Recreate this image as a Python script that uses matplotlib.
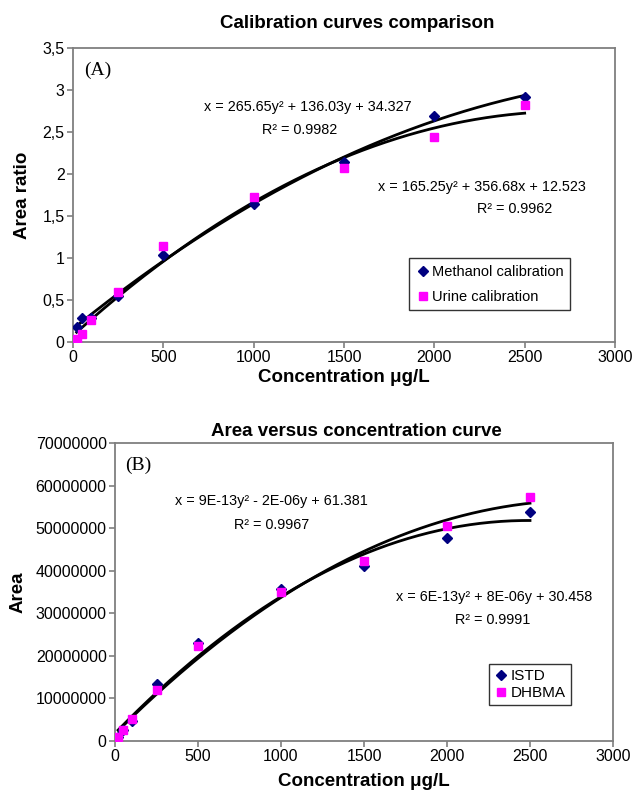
import numpy as np
import matplotlib
matplotlib.use("Agg")
import matplotlib.pyplot as plt
from matplotlib.ticker import FuncFormatter

plt.rcParams['font.family'] = ['Liberation Sans', 'DejaVu Sans']

# concentrations (ug/L)
conc = [20, 50, 100, 250, 500, 1000, 1500, 2000, 2500]

# panel A: area ratio
methanol = [0.18, 0.28, 0.29, 0.55, 1.03, 1.64, 2.14, 2.69, 2.92]
urine = [0.03, 0.10, 0.26, 0.60, 1.14, 1.73, 2.07, 2.44, 2.82]

# panel B: area
istd = [0.9e6, 2.6e6, 4.8e6, 13.3e6, 23.1e6, 35.7e6, 41.0e6, 47.7e6, 53.8e6]
dhbma = [1.0e6, 2.7e6, 5.2e6, 12.0e6, 22.2e6, 34.9e6, 42.3e6, 50.5e6, 57.3e6]

eqA1 = ("x = 265.65y\u00b2 + 136.03y + 34.327", "R\u00b2 = 0.9982")
eqA2 = ("x = 165.25y\u00b2 + 356.68x + 12.523", "R\u00b2 = 0.9962")
eqB1 = ("x = 9E-13y\u00b2 - 2E-06y + 61.381", "R\u00b2 = 0.9967")
eqB2 = ("x = 6E-13y\u00b2 + 8E-06y + 30.458", "R\u00b2 = 0.9991")

NAVY = '#000080'
MAG = '#ff00ff'
GRAY = '#7f7f7f'

W, H = 632, 793
fig = plt.figure(figsize=(W / 100, H / 100), dpi=100)


def box(l, t, r, b):
    return [l / W, 1 - b / H, (r - l) / W, (b - t) / H]


def style(ax):
    for s in ax.spines.values():
        s.set_color(GRAY)
        s.set_linewidth(1.3)
    ax.tick_params(direction='out', length=4, width=1.2, color=GRAY,
                   labelsize=11.5, pad=2, top=False, right=False)


def trend(ax, x, y):
    c = np.polyfit(x, y, 2)
    xs = np.linspace(min(x), max(x), 200)
    ax.plot(xs, np.polyval(c, xs), color='black', lw=2, zorder=2)


# ---------- panel A ----------
axA = fig.add_axes(box(73, 48, 615, 342))
style(axA)
trend(axA, conc, methanol)
trend(axA, conc, urine)
axA.plot(conc, methanol, 'D', color=NAVY, ms=5, ls='none',
         label='Methanol calibration', zorder=3)
axA.plot(conc, urine, 's', color=MAG, ms=6, ls='none',
         label='Urine calibration', zorder=3)
axA.set_xlim(0, 3000)
axA.set_ylim(0, 3.5)
axA.set_xticks(np.arange(0, 3001, 500))
axA.set_yticks(np.arange(0, 3.51, 0.5))
axA.yaxis.set_major_formatter(FuncFormatter(
    lambda v, p: ('%g' % v).replace('.', ',')))
leg = axA.legend(loc='upper left', bbox_to_anchor=(0.62, 0.285),
                 fontsize=10.5, frameon=True, fancybox=False,
                 handletextpad=0.1, borderpad=0.45, labelspacing=0.75,
                 handlelength=1.0, borderaxespad=0)
leg.get_frame().set_edgecolor('black')
leg.get_frame().set_linewidth(1.0)
axA.text(0.02, 0.955, '(A)', transform=axA.transAxes, family='Liberation Serif',
         fontsize=14, va='top', ha='left')
fig.text(308 / W, 1 - 107 / H, eqA1[0], ha='center', va='center', fontsize=10.4)
fig.text(300 / W, 1 - 130 / H, eqA1[1], ha='center', va='center', fontsize=10.4)
fig.text(482 / W, 1 - 187 / H, eqA2[0], ha='center', va='center', fontsize=10.4)
fig.text(515 / W, 1 - 209 / H, eqA2[1], ha='center', va='center', fontsize=10.4)
fig.text(357 / W, 1 - 23 / H, 'Calibration curves comparison', ha='center',
         va='center', fontsize=13.5, fontweight='bold')
axA.set_xlabel('Concentration \u03bcg/L', fontsize=13.5, fontweight='bold',
               labelpad=3)
axA.set_ylabel('Area ratio', fontsize=13.5, fontweight='bold', labelpad=8)

# ---------- panel B ----------
axB = fig.add_axes(box(115, 443, 613, 741))
style(axB)
trend(axB, conc, istd)
trend(axB, conc, dhbma)
axB.plot(conc, istd, 'D', color=NAVY, ms=5, ls='none', label='ISTD',
         zorder=3)
axB.plot(conc, dhbma, 's', color=MAG, ms=6, ls='none', label='DHBMA',
         zorder=3)
axB.set_xlim(0, 3000)
axB.set_ylim(0, 70e6)
axB.set_xticks(np.arange(0, 3001, 500))
axB.set_yticks(np.arange(0, 70e6 + 1, 10e6))
axB.yaxis.set_major_formatter(FuncFormatter(lambda v, p: '%d' % v))
leg = axB.legend(loc='upper left', bbox_to_anchor=(0.75, 0.26),
                 fontsize=11, frameon=True, fancybox=False,
                 handletextpad=0.1, borderpad=0.35, labelspacing=0.2,
                 handlelength=1.0, borderaxespad=0)
leg.get_frame().set_edgecolor('black')
leg.get_frame().set_linewidth(1.0)
axB.text(0.02, 0.955, '(B)', transform=axB.transAxes, family='Liberation Serif',
         fontsize=14, va='top', ha='left')
fig.text(271 / W, 1 - 501 / H, eqB1[0], ha='center', va='center', fontsize=10.4)
fig.text(272 / W, 1 - 525 / H, eqB1[1], ha='center', va='center', fontsize=10.4)
fig.text(494 / W, 1 - 597 / H, eqB2[0], ha='center', va='center', fontsize=10.4)
fig.text(493 / W, 1 - 620 / H, eqB2[1], ha='center', va='center', fontsize=10.4)
fig.text(356 / W, 1 - 431 / H, 'Area versus concentration curve', ha='center',
         va='center', fontsize=13.5, fontweight='bold')
axB.set_xlabel('Concentration \u03bcg/L', fontsize=13.5, fontweight='bold',
               labelpad=6)
axB.set_ylabel('Area', fontsize=13.5, fontweight='bold')
axB.yaxis.set_label_coords(-0.178, 0.5)

fig.savefig('out.png', dpi=100)
